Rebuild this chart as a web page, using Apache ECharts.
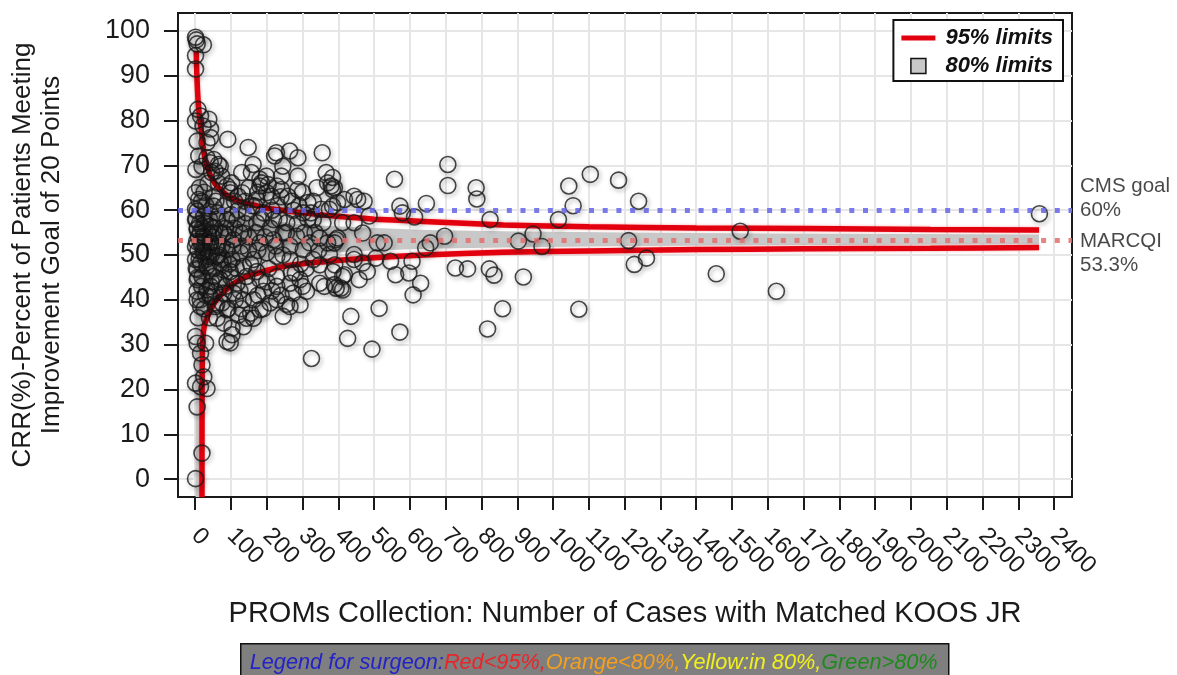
<!DOCTYPE html>
<html>
<head>
<meta charset="utf-8">
<script src="https://cdn.jsdelivr.net/npm/echarts@6/dist/echarts.min.js"></script>
<style>
  html, body { margin: 0; padding: 0; background: #fff; }
  #chart { width: 1177px; height: 675px; }
</style>
</head>
<body>
<div id="chart"></div>
<script>
// Tick values for both axes
const xTicks = [0,100,200,300,400,500,600,700,800,900,1000,1100,1200,1300,1400,1500,1600,1700,1800,1900,2000,2100,2200,2300,2400];
const yTicks = [0,10,20,30,40,50,60,70,80,90,100];

// Surgeons: [number of matched cases, CRR %]
const surgeons = [
  [824,57.9],[1044,65.4],[1104,68.0],[1183,66.7],[1056,61.0],[1015,57.9],[1239,62.0],[944,54.7],[903,53.1],[969,51.9],
  [1211,53.2],[1523,55.3],[1227,47.9],[1261,49.3],[822,46.9],[835,45.5],[917,45.1],[1456,45.8],[1624,41.9],[859,38.0],
  [1072,37.9],[817,33.5],[2359,59.2],
  [706,70.2],[706,65.5],[785,65.0],[787,62.5],[557,66.9],[646,61.5],[572,60.9],[579,59.4],[613,58.5],[486,58.7],
  [454,62.4],[444,63.1],[472,62.0],[417,62.4],[380,65.4],[384,67.3],[366,68.4],[355,72.8],[389,65.0],[398,61.7],
  [375,60.2],[509,52.7],[528,52.7],[468,54.9],[389,52.7],[398,53.8],[644,51.6],[657,52.7],[697,54.2],[546,48.6],
  [606,48.6],[444,49.0],[505,49.3],[468,48.2],[481,46.3],[458,44.5],[417,45.6],[389,43.4],[407,42.6],[560,45.6],
  [597,46.0],[630,43.7],[609,41.1],[727,47.1],[761,46.9],[435,36.3],[514,38.1],[426,31.4],[572,32.8],[494,29.0],
  [370,66.1],[384,64.6],[287,71.7],[264,73.2],[227,72.8],[222,72.1],[245,69.8],[287,67.6],[287,64.6],[148,74.0],
  [91,75.8],[162,70.2],[157,68.4],[130,68.4],[199,67.6],[185,66.1],[204,65.7],[241,67.6],[241,64.6],[213,63.1],
  [259,63.1],[120,63.1],[97,64.6],[74,67.6],[65,70.2],[42,70.6],[46,68.4],[102,66.1],[167,60.9],[315,61.7],
  [324,59.4],[352,60.2],[384,60.9],[412,57.2],[444,57.2],[370,52.7],[394,53.4],
  [1,98.6],[3,98.0],[5.5,97.1],[23,96.9],[1,94.5],[1,91.5],[7.5,82.5],[15,81.0],[1,79.9],[38,80.3],
  [22,78.8],[43,78.1],[5.5,75.4],[43,76.2],[33,75.1],[10,72.1],[33,71.7],[52,71.3],[2,69.1],[19,69.8],
  [56,68.7],[70,69.8],[1,63.9],[10,62.4],[89,65.4],[98,63.9],[131,63.9],[181,66.9],[181,65.4],[200,63.9],
  [228,65.4],[172,62.4],[5.5,59.8],
  [5.5,30.3],[29,30.3],[103,32.2],[89,30.7],[1,31.8],[163,35.9],[144,35.9],[121,36.6],[246,36.3],[265,38.5],
  [293,38.9],[311,41.9],[385,46.3],[348,47.8],[330,49.0],[181,37.8],[209,39.3],[228,40.0],[163,40.0],[135,40.0],
  [191,41.9],[228,43.0],[265,43.7],[293,44.5],[274,41.5],[61,35.9],[80,34.8],[103,33.7],[135,34.0],[5.5,40.0],
  [5.5,41.9],[42,40.7],[33,42.2],[15,38.5],[1,49.0],[1,51.9],[5.5,55.7],[1,57.9],[1,60.2],[228,49.7],
  [265,49.0],[302,51.2],[320,52.7],[348,53.8],[283,54.2],[357,57.2],[330,57.9],[302,59.4],[348,43.7],[390,47.8],
  [269,46.0],[228,45.2],[181,44.5],[172,46.3],[144,45.2],[117,43.7],[107,41.5],[80,41.5],[75,39.3],[89,37.8],
  [56,38.5],[43,43.0],[70,44.5],[98,46.3],[135,47.5],[163,49.0],[200,50.5],[181,52.7],[219,53.4],[246,54.9],
  [256,57.2],[219,57.9],[172,57.2],[191,59.4],[144,59.4],[117,57.9],[135,54.9],[107,53.4],[89,51.2],[61,49.7],
  [126,50.5],[149,51.2],[80,54.9],[89,57.9],[61,59.4],[43,56.4],[43,52.7],[33,47.5],[24,50.5],[24,54.2],
  [24,58.7],[52,60.9],[19,45.2],[5.5,44.5],[5.5,46.7],[52,45.2],[52,54.9],[61,51.9],[15,52.7],[15,48.2],
  [38,49.7],[70,48.2],[103,49.0],[80,46.7],
  [98,30.4],[15,28.1],[19,25.5],[24,22.8],[1,21.4],[15,20.6],[33,20.2],[5.5,16.1],[19,5.8],[1,0.1],
  [325,26.9],[361,43.0],[394,42.6],[412,42.2],[412,45.2],[444,50.1],[375,50.1],
  [3,58],[6,56],[9,54],[12,57],[4,53],[8,51],[11,49],[3,47],[7,45],[14,55],
  [17,53],[20,56],[22,51],[26,53],[28,57],[30,49],[35,55],[38,52],[40,58],[45,50],
  [48,54],[50,47],[55,56],[58,52],[62,58],[66,50],[70,55],[75,52],[78,49],[85,56],
  [90,54],[95,48],[100,59],[105,52],[110,56],[115,47],[120,60],[125,55],[130,52],[140,57],
  [150,54],[155,48],[160,61],[170,55],[175,51],[185,58],[195,54],[205,47],[210,56],[215,60],
  [225,52],[235,58],[245,50],[255,55],[265,52],[275,60],[285,57],[295,48],[305,55],[315,58],
  [335,55],[345,51],
  [12,65],[18,62],[25,64],[30,61],[36,66],[50,63],[58,62],[65,66],[80,61],[110,62],
  [140,62],[150,65],[175,64],[230,61],[240,63],[270,62],[290,61],[300,64],[330,62],[340,65],
  [8,36],[14,40],[18,43],[25,38],[30,41],[40,36],[45,44],[55,42],[60,39],[65,44],
  [85,43],[92,38],[100,45],[112,40],[125,42],[130,38],[150,43],[155,37],[175,41],[190,38],
  [200,44],[215,42],[240,41],[255,39],[280,46],[300,43],[310,47]
];

// 95% control limits (upper / lower)
const limit95Upper = [
  [3,95.5],[4,92],[5,89.5],[7,86],[9,83.5],[12,81],[15,79.3],[19,76.5],[24,73],[30,70.8],
  [36,69.2],[43,67.6],[55,66],[70,64.6],[89,63.3],[117,62.2],[150,61.4],[181,60.8],[220,60.2],[280,59.6],
  [361,58.9],[430,58.4],[500,58.0],[639,57.5],[861,56.7],[1100,56.3],[1400,56.0],[1700,55.9],[2055,55.7],[2358,55.6]
];
const limit95Lower = [
  [19,-4],[19.3,20],[20.3,29],[22,32],[26,34.3],[32,35.8],[40,37.2],[55,39.5],[72,41.1],[100,43.2],
  [135,44.9],[167,45.8],[228,47.1],[258,47.6],[319,48.2],[361,48.5],[430,49],[500,49.4],[639,50],[861,50.6],
  [1100,50.9],[1400,51.2],[1700,51.4],[2055,51.5],[2358,51.7]
];

// 80% control limits (shaded band)
const limit80Upper = [
  [1,90],[3,88],[5,83],[8,77],[12,72.5],[18,69],[25,66.6],[35,64.6],[50,62.8],[70,61.3],
  [100,59.9],[140,58.7],[200,57.8],[280,57],[361,56.5],[500,56],[650,55.6],[861,55.3],[1200,55],[1600,54.8],
  [2000,54.7],[2358,54.6]
];
const limit80Lower = [
  [1,-4],[17,-4],[18.5,20],[20,30],[24,36],[30,39.8],[40,42.3],[55,44.4],[70,45.7],[100,47.1],
  [140,48.3],[200,49.2],[280,50],[361,50.5],[500,51],[650,51.4],[861,51.7],[1200,52],[1600,52.2],[2000,52.3],
  [2358,52.4]
];

// Reference lines
const refValues = [60, 53.3];
const refLabels = ['CMS goal\n60%', 'MARCQI\n53.3%'];

const X_MIN = -48, X_MAX = 2450, Y_MIN = -4, Y_MAX = 104;
const FONT = '"Liberation Sans", Arial, sans-serif';

const chart = echarts.init(document.getElementById('chart'), null, { renderer: 'canvas' });

const option = {
  backgroundColor: '#fff',
  animation: false,
  textStyle: { fontFamily: FONT },
  grid: {
    left: 173, right: 105, top: 13, bottom: 178,
    show: true, borderColor: '#1a1a1a', borderWidth: 2, backgroundColor: '#fff'
  },
  legend: {
    orient: 'vertical',
    right: 114, top: 20,
    itemWidth: 34, itemHeight: 15, itemGap: 6,
    padding: [7, 10, 4, 8],
    borderColor: '#111', borderWidth: 2, backgroundColor: '#fff',
    textStyle: { fontSize: 22, fontWeight: 'bold', fontStyle: 'italic', color: '#111', fontFamily: FONT, padding: [0, 0, 0, 5] },
    selectedMode: false,
    data: [
      { name: '95% limits', icon: 'path://M0,0h34v5h-34z', itemStyle: { color: '#e2000f', borderWidth: 0 } },
      { name: '80% limits', icon: 'path://M0,0h15v15h-15z', itemStyle: { color: '#c8c8c8', borderColor: '#111', borderWidth: 1.5 } }
    ]
  },
  xAxis: {
    type: 'value', min: X_MIN, max: X_MAX,
    name: 'PROMs Collection: Number of Cases with Matched KOOS JR',
    nameLocation: 'middle', nameGap: 102,
    nameTextStyle: { fontSize: 29, color: '#1a1a1a', fontFamily: FONT },
    axisLine: { show: true, onZero: false, lineStyle: { color: '#1a1a1a', width: 2 } },
    axisTick: { show: true, length: 13, lineStyle: { color: '#1a1a1a', width: 2 }, customValues: xTicks },
    axisLabel: {
      rotate: -45, fontSize: 24, color: '#1a1a1a', margin: 35, customValues: xTicks, fontFamily: FONT,
      formatter: v => String(v)
    },
    splitLine: { show: true, lineStyle: { color: '#e6e6e6', width: 2 } }
  },
  yAxis: {
    type: 'value', min: Y_MIN, max: Y_MAX,
    name: 'CRR(%)-Percent of Patients Meeting\nImprovement Goal of 20 Points',
    nameLocation: 'middle', nameGap: 112, nameRotate: 90,
    nameTextStyle: { fontSize: 26, color: '#1a1a1a', lineHeight: 29, fontFamily: FONT },
    axisLine: { show: true, onZero: false, lineStyle: { color: '#1a1a1a', width: 2 } },
    axisTick: { show: true, length: 14, lineStyle: { color: '#1a1a1a', width: 2 }, customValues: yTicks },
    axisLabel: { fontSize: 27, color: '#1a1a1a', margin: 28, customValues: yTicks, fontFamily: FONT },
    splitLine: { show: true, lineStyle: { color: '#e6e6e6', width: 2 } }
  },
  series: [
    {
      name: '80% limits',
      type: 'custom',
      z: 1,
      clip: true,
      data: limit80Upper,
      renderItem: function (params, api) {
        if (params.dataIndex !== 0) return null;
        const pts = limit80Upper.map(p => api.coord(p))
          .concat(limit80Lower.slice().reverse().map(p => api.coord(p)));
        return {
          type: 'polygon',
          shape: { points: pts },
          style: { fill: '#c8c8c8', stroke: null }
        };
      }
    },
    {
      name: 'reference',
      type: 'line',
      z: 2,
      data: [],
      markLine: {
        silent: true,
        symbol: 'none',
        label: { show: false },
        data: [
          { yAxis: refValues[0], lineStyle: { color: 'rgba(100,100,232,0.85)', width: 5, type: [5, 8.7] } },
          { yAxis: refValues[1], lineStyle: { color: 'rgba(226,110,110,0.85)', width: 5, type: [5, 8.7] } }
        ]
      }
    },
    {
      name: '95% limits',
      type: 'line',
      z: 3,
      data: limit95Upper,
      showSymbol: false,
      smooth: 0.25,
      lineStyle: { color: '#e2000f', width: 5.5, shadowBlur: 3, shadowColor: 'rgba(230,0,0,0.35)' },
      itemStyle: { color: '#e2000f' }
    },
    {
      name: '95% limits',
      type: 'line',
      z: 3,
      data: limit95Lower,
      showSymbol: false,
      smooth: 0.25,
      lineStyle: { color: '#e2000f', width: 5.5, shadowBlur: 3, shadowColor: 'rgba(230,0,0,0.35)' },
      itemStyle: { color: '#e2000f' }
    },
    {
      name: 'surgeons',
      type: 'scatter',
      z: 4,
      data: surgeons,
      symbol: 'circle',
      symbolSize: 16,
      itemStyle: {
        color: 'rgba(0,0,0,0)',
        borderColor: '#1a1a1a',
        borderWidth: 1.6,
        shadowBlur: 4,
        shadowColor: 'rgba(0,0,0,0.45)',
        shadowOffsetX: 1.5,
        shadowOffsetY: 2
      }
    },
    {
      name: 'refLabels',
      type: 'scatter',
      z: 5,
      clip: false,
      silent: true,
      symbolSize: 0,
      data: refValues.map((v, i) => ({
        value: [X_MAX, v],
        label: {
          show: true,
          position: 'right',
          distance: 8,
          offset: [0, i === 0 ? -12 : 13],
          formatter: refLabels[i],
          fontSize: 20.5,
          lineHeight: 24,
          color: '#1a1a1a',
          fontFamily: FONT
        }
      }))
    }
  ],
  graphic: [
    {
      type: 'group',
      left: 240, top: 643,
      children: [
        {
          type: 'rect',
          shape: { x: 0, y: 0, width: 708, height: 36 },
          style: { fill: '#7f7f7f', stroke: '#111', lineWidth: 1.5 }
        },
        {
          type: 'text',
          x: 9, y: 19,
          style: {
            text: '{b|Legend for surgeon:}{r|Red<95%,}{o|Orange<80%,}{y|Yellow:in 80%,}{g|Green>80%}',
            verticalAlign: 'middle',
            fontSize: 21.7, fontStyle: 'italic', fontFamily: FONT,
            rich: {
              b: { fill: '#2323c8', fontSize: 21.7, fontStyle: 'italic', fontFamily: FONT },
              r: { fill: '#e8262a', fontSize: 21.7, fontStyle: 'italic', fontFamily: FONT },
              o: { fill: '#f2a01e', fontSize: 21.7, fontStyle: 'italic', fontFamily: FONT },
              y: { fill: '#f0f01e', fontSize: 21.7, fontStyle: 'italic', fontFamily: FONT },
              g: { fill: '#1e8a1e', fontSize: 21.7, fontStyle: 'italic', fontFamily: FONT }
            }
          }
        }
      ]
    }
  ]
};

chart.setOption(option);
</script>
</body>
</html>
